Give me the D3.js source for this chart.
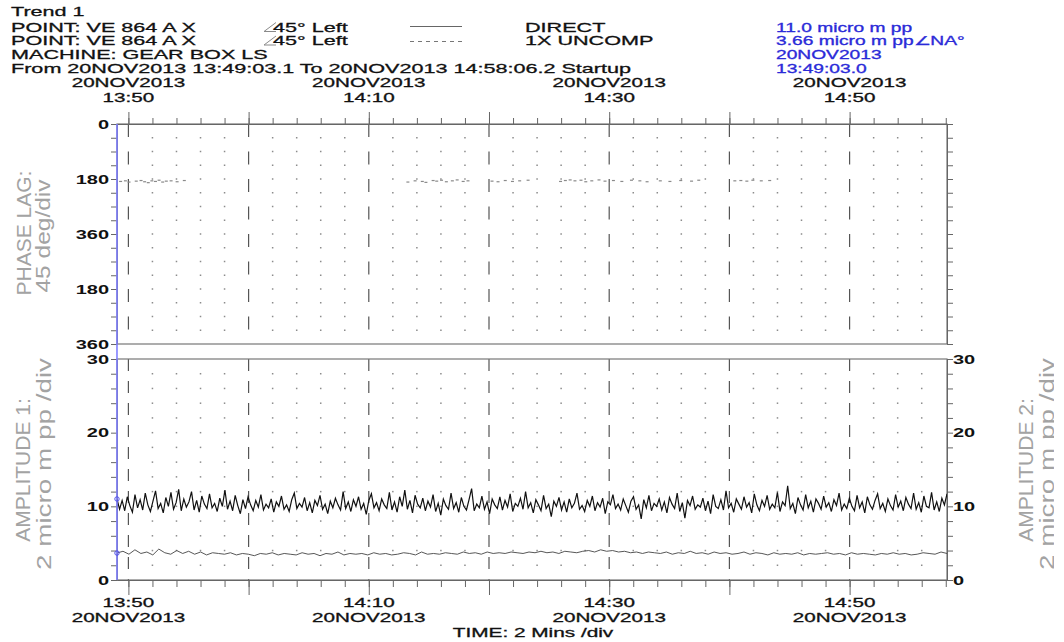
<!DOCTYPE html>
<html>
<head>
<meta charset="utf-8">
<script src="https://cdn.jsdelivr.net/npm/d3@7/dist/d3.min.js"></script>
<style>
  body { margin: 0; background: #fff; }
  svg { display: block; }
</style>
</head>
<body>
<svg id="chart" width="1064" height="642"></svg>
<script>
// ---- header / annotation text ----
const headerLines = [
  "Trend 1",
  "POINT: VE 864 A X",
  "POINT: VE 864 A X",
  "MACHINE: GEAR BOX LS",
  "From 20NOV2013 13:49:03.1 To 20NOV2013 14:58:06.2 Startup"
];
const rotationText = ["45° Left", "45° Left"];
const legendNames = ["DIRECT", "1X UNCOMP"];
const cursorText = ["11.0 micro m pp", "3.66 micro m pp∠NA°", "20NOV2013", "13:49:03.0"];
const cursorValues = [11.0, 3.66];

// ---- time range ----
const tStart = new Date(2013, 10, 20, 13, 49, 3, 100);
const tEnd = new Date(2013, 10, 20, 14, 58, 6, 200);
const tCursor = new Date(2013, 10, 20, 13, 49, 3, 0);
const dateLabel = "20NOV2013";
const timeAxisTitle = "TIME: 2 Mins /div";

// ---- axis labels ----
const phaseTickLabels = { 0: "0", 180: "180", 360: "360", 540: "180", 720: "360" };
const ampTickLabels = [0, 10, 20, 30];
const phaseTitle = ["PHASE LAG:", "45 deg/div"];
const amp1Title = ["AMPLITUDE 1:", "2 micro m pp /div"];
const amp2Title = ["AMPLITUDE 2:", "2 micro m pp /div"];

// ---- DIRECT amplitude, micro m pp (evenly sampled over the run) ----
const direct = [
  11.0, 9.6, 10.8, 9.4, 11.3, 10.1, 9.2, 11.6, 9.8, 10.9, 9.5, 11.8, 10.2, 9.3, 10.7, 12.1, 9.7, 10.4, 9.1, 11.2,
  10.0, 11.9, 9.6, 10.5, 12.3, 9.4, 11.0, 9.9, 10.6, 12.0, 9.5, 10.8, 9.2, 11.4, 10.3, 9.7, 11.7, 9.8, 10.4, 9.3,
  11.1, 10.0, 12.2, 9.6, 10.7, 9.4, 11.5, 10.1, 9.0, 10.9,
  9.7, 11.3, 10.2, 9.4, 10.8, 9.9, 11.6, 9.5, 10.3, 9.8, 11.0, 9.2, 10.6, 10.0, 11.4, 9.6, 10.2, 9.3, 10.9, 11.8,
  9.7, 10.4, 9.9, 11.2, 9.4, 10.5, 9.1, 10.8, 10.1, 11.5, 9.6, 10.3, 9.0, 10.7, 9.8, 11.1, 10.2, 9.5, 12.0, 9.7,
  10.6, 9.3, 10.9, 10.0, 11.3, 9.6, 10.4, 8.9, 10.8, 11.7,
  9.8, 10.5, 9.4, 11.0, 10.2, 9.7, 11.9, 9.5, 10.6, 9.2, 11.3, 10.0, 12.2, 9.6, 10.8, 9.1, 11.5, 10.3, 9.8, 11.1,
  9.4, 10.7, 9.9, 11.6, 9.3, 10.4, 8.8, 11.0, 10.1, 9.6, 11.8, 9.7, 10.5, 9.2, 11.2, 10.0, 9.5, 10.9, 12.4, 9.4,
  10.3, 9.8, 11.4, 9.6, 10.6, 9.0, 11.0, 10.2, 9.7, 11.3,
  9.5, 10.8, 9.9, 11.7, 9.3, 10.4, 10.0, 11.1, 9.6, 12.0, 9.8, 10.5, 9.1, 10.9, 10.2, 9.4, 11.5, 9.7, 10.3, 8.6,
  10.7, 10.0, 11.2, 9.5, 10.6, 9.2, 11.0, 9.8, 10.4, 11.8, 9.6, 10.1, 9.3, 10.8, 10.0, 11.4, 9.4, 10.5, 9.9, 11.1,
  9.0, 10.6, 10.2, 11.6, 9.7, 10.3, 9.5, 11.0, 10.1, 9.2,
  10.7, 11.3, 9.6, 10.2, 8.3, 10.9, 9.8, 11.5, 9.4, 10.4, 10.0, 11.0, 9.5, 10.6, 9.1, 11.2, 10.3, 9.7, 11.8, 9.3,
  10.5, 8.4, 10.8, 10.1, 11.4, 9.6, 10.2, 9.9, 11.1, 9.4, 10.7, 9.0, 11.6, 10.0, 9.7, 10.9, 9.5, 12.1, 9.8, 10.4,
  9.2, 11.0, 10.3, 9.6, 11.3, 9.9, 10.5, 9.1, 11.7, 10.2,
  9.4, 10.8, 10.0, 11.5, 9.6, 10.3, 9.8, 11.9, 9.3, 10.6, 10.1, 12.8, 9.7, 10.4, 9.0, 11.2, 10.2, 9.5, 11.6, 9.8,
  10.7, 9.2, 11.0, 10.4, 9.6, 11.4, 9.9, 10.5, 9.3, 10.9, 10.1, 11.8, 9.5, 10.3, 9.7, 11.1, 10.0, 9.4, 11.5, 9.8,
  10.6, 9.1, 11.3, 10.2, 9.6, 10.8, 11.7, 9.7, 10.4, 9.3,
  11.0, 10.1, 9.5, 11.6, 9.9, 10.7, 9.4, 11.2, 10.3, 9.7, 11.8, 9.6, 10.5, 9.2, 11.4, 10.0, 9.8, 11.9, 9.5, 10.6,
  9.3, 11.1, 10.2, 11.7
];

// ---- 1X UNCOMP amplitude, micro m pp (evenly sampled over the run) ----
const uncomp = [
  3.66, 3.9, 3.5, 4.1, 3.6, 3.8, 3.4, 4.2, 3.7, 3.5, 4.0, 3.6, 3.9, 3.5, 3.8, 3.4, 3.7, 3.6, 3.5, 3.7,
  3.4, 3.6, 3.5, 3.3, 3.6, 3.5, 3.7, 3.4, 3.6, 3.5, 3.4, 3.7, 3.5, 3.6, 3.3, 3.6, 3.5, 3.8, 3.4, 3.6,
  3.5, 3.6, 3.4, 3.7, 3.5, 3.6, 3.4, 3.5, 3.7, 3.6, 3.4, 3.8, 3.5, 3.6, 3.5, 3.7, 3.6, 3.5, 3.8, 3.6,
  3.7, 3.5, 3.8, 3.6, 3.7, 3.6, 3.8, 3.7, 3.6, 3.8, 3.7, 3.9, 3.7, 3.8, 3.6, 3.9, 3.8, 3.7, 3.9, 4.0,
  3.8, 4.1, 3.9, 4.0, 3.8, 3.9, 3.7, 3.8, 3.6, 3.8, 3.7, 3.6, 3.8, 3.5, 3.7, 3.6, 3.9, 3.6, 3.7, 3.5,
  3.8, 3.6, 3.7, 3.5, 3.6, 3.8, 3.5, 3.7, 3.6, 3.4, 3.7, 3.5, 3.6, 3.5, 3.7, 3.4, 3.6, 3.5, 3.6, 3.7,
  3.5, 3.6, 3.4, 3.7, 3.5, 3.6, 3.5, 3.4, 3.6, 3.5, 3.7, 3.5, 3.6, 3.4, 3.5, 3.7, 3.6, 3.5, 3.8, 3.6
];

// ---- 1X UNCOMP phase lag samples: minutes after start, degrees ----
const phaseMinutes = [
  0.3, 0.7, 1.0, 1.6, 2.0, 2.3, 2.6, 2.9, 3.2, 3.5, 3.8, 4.1, 4.5, 5.0, 5.6,
  24.2, 24.8, 25.4, 25.7, 26.3, 26.6, 27.0, 27.4, 27.9, 28.3, 28.8, 29.2,
  31.2, 31.7, 32.3, 32.9, 33.5, 34.2,
  36.9, 37.3, 37.7, 38.1, 38.6, 39.0, 39.5, 40.1, 40.6, 41.3, 42.0, 42.8, 43.5, 44.1,
  45.2, 46.0, 46.9, 47.8, 48.4,
  51.4, 51.9, 52.4, 52.9, 53.6, 54.3
];
const phaseDeg = [
  188, 186, 190, 187, 185, 189, 192, 186, 188, 184, 190, 187, 186, 189, 185,
  190, 186, 188, 191, 185, 187, 184, 189, 186, 183, 188, 186,
  187, 189, 185, 188, 186, 184,
  188, 185, 183, 186, 184, 189, 186, 183, 187, 185, 188, 184, 186, 189,
  186, 188, 185, 187, 184,
  186, 185, 187, 184, 186, 185
];

// ================= drawing =================
const svg = d3.select("#chart");
const FONT = "'Liberation Sans', Arial, Helvetica, sans-serif";
const SX = 1.6;          // wide lettering of the recorder printout
const INK = "#111";
const AXIS = "#666";
const BLUE = "#2a2ad8";
const TITLE_GRAY = "#a3a3a3";

const L = 117, R = 947;
const PT = 124, PB = 344;   // phase panel
const AT = 359, AB = 580;   // amplitude panel

function wideText(parent, x, y, str, o = {}) {
  const fill = o.fill || INK;
  return parent.append("text")
    .attr("transform", `translate(${x},${y}) scale(${o.sx || SX},1)`)
    .attr("text-anchor", o.anchor || "start")
    .attr("font-family", FONT)
    .attr("font-size", o.size || 13.5)
    .attr("font-weight", o.weight || "normal")
    .attr("fill", fill)
    .attr("stroke", fill)
    .attr("stroke-width", 0.3)
    .text(str);
}

function verticalText(parent, x, y, str, o = {}) {
  const t = parent.append("text")
    .attr("transform", `translate(${x},${y}) rotate(-90)`)
    .attr("text-anchor", "middle")
    .attr("font-family", FONT)
    .attr("font-size", o.size || 21)
    .attr("fill", o.fill || TITLE_GRAY)
    .text(str);
  if (o.len) t.attr("textLength", o.len).attr("lengthAdjust", "spacingAndGlyphs");
  return t;
}

// ---- header block ----
const headerBase = [16, 31.5, 45, 59, 73];
headerLines.forEach((s, i) => wideText(svg, 11, headerBase[i], s));

// rotation direction marks
const angleG = svg.append("g").attr("fill", "none").attr("stroke", "#8a8a8a").attr("stroke-width", 1);
[[22.5, 31.5], [36, 45]].forEach(([top, base]) => {
  angleG.append("path").attr("d", `M276,${top} L264,${base} L276,${base}`);
});
rotationText.forEach((s, i) => wideText(svg, 273, headerBase[i + 1], s));

// legend line styles
svg.append("line").attr("x1", 410).attr("x2", 462).attr("y1", 26.5).attr("y2", 26.5)
  .attr("stroke", "#666").attr("stroke-width", 1);
svg.append("line").attr("x1", 410).attr("x2", 462).attr("y1", 41.5).attr("y2", 41.5)
  .attr("stroke", "#777").attr("stroke-width", 1).attr("stroke-dasharray", "4,4");
legendNames.forEach((s, i) => wideText(svg, 525, headerBase[i + 1], s));

// cursor read-out
cursorText.forEach((s, i) => wideText(svg, 776, headerBase[i + 1], s, { size: 12, fill: BLUE }));

// ---- scales ----
const x = d3.scaleTime().domain([tStart, tEnd]).range([L, R]);
const yP = d3.scaleLinear().domain([0, 720]).range([PT, PB]);
const yA = d3.scaleLinear().domain([0, 30]).range([AB, AT]);

const minorTicks = d3.timeMinute.every(2).range(tStart, tEnd);
const majorTicks = d3.timeMinute.every(10).range(tStart, tEnd);
const labelTicks = majorTicks.filter(d => d.getMinutes() % 20 === 10);
const isMajor = d => d.getMinutes() % 10 === 0;

const phaseTicks = d3.range(0, 721, 45);
const ampTicks = d3.range(0, 31, 2);

// ---- grid: dots and dashed major verticals ----
const grid = svg.append("g");
function dotGrid(yScale, values, top, bottom) {
  const inner = values.filter(v => yScale(v) > top + 1 && yScale(v) < bottom - 1);
  minorTicks.filter(d => !isMajor(d) && x(d) < R - 2).forEach(d => {
    inner.forEach(v => {
      grid.append("rect")
        .attr("x", x(d) - 0.75).attr("y", yScale(v) - 0.75)
        .attr("width", 1.5).attr("height", 1.5)
        .attr("fill", "#8c8c8c");
    });
  });
}
dotGrid(yP, phaseTicks, PT, PB);
dotGrid(yA, ampTicks, AT, AB);

function dashedMajors(top, bottom, dash) {
  grid.selectAll(null).data(majorTicks).enter().append("line")
    .attr("x1", d => x(d)).attr("x2", d => x(d))
    .attr("y1", top).attr("y2", bottom)
    .attr("stroke", "#555").attr("stroke-width", 1.2)
    .attr("stroke-dasharray", dash);
}
dashedMajors(PT, PB, "13,14.5");
dashedMajors(AT, AB, "12,10");

// ---- panel frames ----
[[PT, PB], [AT, AB]].forEach(([t, b]) => {
  svg.append("rect").attr("x", L).attr("y", t).attr("width", R - L).attr("height", b - t)
    .attr("fill", "none").attr("stroke", "#777").attr("stroke-width", 1.2);
});

// ---- axes ----
function styleAxis(g, sxLabels, bold) {
  g.selectAll("path, line").attr("stroke", AXIS).attr("stroke-width", 1);
  g.selectAll("text").each(function () {
    const t = d3.select(this);
    const xv = +t.attr("x") || 0;
    t.attr("x", xv / sxLabels)
      .attr("transform", `scale(${sxLabels},1)`)
      .attr("font-family", FONT)
      .attr("font-size", 12.5)
      .attr("font-weight", bold ? "bold" : "normal")
      .attr("fill", INK);
  });
}

// time ticks, top and bottom
[["top", PT, 6, 12], ["bottom", AB, 7, 15]].forEach(([side, y0, minorLen, majorLen]) => {
  const mk = side === "top" ? d3.axisTop : d3.axisBottom;
  const gMinor = svg.append("g").attr("transform", `translate(0,${y0})`)
    .call(mk(x).tickValues(minorTicks).tickSize(minorLen).tickSizeOuter(0).tickFormat(""));
  styleAxis(gMinor, 1, false);
  const gMajor = svg.append("g").attr("transform", `translate(0,${y0})`)
    .call(mk(x).tickValues(majorTicks).tickSize(majorLen).tickSizeOuter(0).tickFormat(""));
  styleAxis(gMajor, 1, false);
});

// phase axes
const gPL = svg.append("g").attr("transform", `translate(${L},0)`)
  .call(d3.axisLeft(yP).tickValues(phaseTicks).tickSize(6).tickSizeOuter(0).tickPadding(2)
    .tickFormat(v => phaseTickLabels[v] !== undefined ? phaseTickLabels[v] : ""));
styleAxis(gPL, SX, true);
const gPR = svg.append("g").attr("transform", `translate(${R},0)`)
  .call(d3.axisRight(yP).tickValues(phaseTicks).tickSize(6).tickSizeOuter(0).tickFormat(""));
styleAxis(gPR, 1, false);

// amplitude axes
const gAL = svg.append("g").attr("transform", `translate(${L},0)`)
  .call(d3.axisLeft(yA).tickValues(ampTicks).tickSize(6).tickSizeOuter(0).tickPadding(2)
    .tickFormat(v => ampTickLabels.includes(v) ? String(v) : ""));
styleAxis(gAL, SX, true);
const gAR = svg.append("g").attr("transform", `translate(${R},0)`)
  .call(d3.axisRight(yA).tickValues(ampTicks).tickSize(6).tickSizeOuter(0).tickPadding(0)
    .tickFormat(v => ampTickLabels.includes(v) ? String(v) : ""));
styleAxis(gAR, SX, true);

// time labels
const fmtHM = d3.timeFormat("%H:%M");
labelTicks.forEach(d => {
  wideText(svg, x(d), 87, dateLabel, { anchor: "middle", size: 12.5, sx: 1.65 });
  wideText(svg, x(d), 102, fmtHM(d), { anchor: "middle", size: 12.5, sx: 1.65 });
  wideText(svg, x(d), 607, fmtHM(d), { anchor: "middle", size: 12.5, sx: 1.65 });
  wideText(svg, x(d), 622, dateLabel, { anchor: "middle", size: 12.5, sx: 1.65 });
});
wideText(svg, 533, 637, timeAxisTitle, { anchor: "middle", size: 13 });

// ---- axis titles ----
verticalText(svg, 31, 233, phaseTitle[0]);
verticalText(svg, 50, 236, phaseTitle[1], { len: 113 });
verticalText(svg, 30, 470, amp1Title[0]);
verticalText(svg, 51, 464, amp1Title[1], { len: 212 });
svg.append("clipPath").attr("id", "rightEdge")
  .append("rect").attr("x", 990).attr("y", 300).attr("width", 64).attr("height", 340);
const rt = svg.append("g").attr("clip-path", "url(#rightEdge)");
verticalText(rt, 1033, 470, amp2Title[0]);
verticalText(rt, 1054, 464, amp2Title[1], { len: 212 });

// ---- data ----
svg.append("clipPath").attr("id", "ampClip")
  .append("rect").attr("x", L).attr("y", AT).attr("width", R - L).attr("height", AB - AT);
const sampleTime = n => d3.scaleLinear().domain([0, n - 1]).range([+tStart, +tEnd]);
const stD = sampleTime(direct.length);
const stU = sampleTime(uncomp.length);

const plot = svg.append("g").attr("clip-path", "url(#ampClip)");
plot.append("path").datum(uncomp)
  .attr("d", d3.line().x((d, i) => x(stU(i))).y(d => yA(d)))
  .attr("fill", "none").attr("stroke", "#444").attr("stroke-width", 0.9);
plot.append("path").datum(direct)
  .attr("d", d3.line().x((d, i) => x(stD(i))).y(d => yA(d)))
  .attr("fill", "none").attr("stroke", "#111").attr("stroke-width", 1.2);

// phase samples (1X UNCOMP)
svg.append("g").selectAll("rect").data(phaseMinutes).enter().append("rect")
  .attr("x", (m) => x(new Date(+tStart + m * 60000)) - 1.5)
  .attr("y", (m, i) => yP(phaseDeg[i]) - 0.6)
  .attr("width", 3).attr("height", 1.2)
  .attr("fill", "#8a8a8a");

// ---- cursor ----
svg.append("line").attr("x1", x(tCursor)).attr("x2", x(tCursor)).attr("y1", PT).attr("y2", AB)
  .attr("stroke", "#8080ff").attr("stroke-width", 1.6);
svg.selectAll(".cursorMark").data(cursorValues).enter().append("circle")
  .attr("cx", x(tCursor)).attr("cy", d => yA(d)).attr("r", 2.2)
  .attr("fill", "none").attr("stroke", "#5050e8").attr("stroke-width", 1);
</script>
</body>
</html>
